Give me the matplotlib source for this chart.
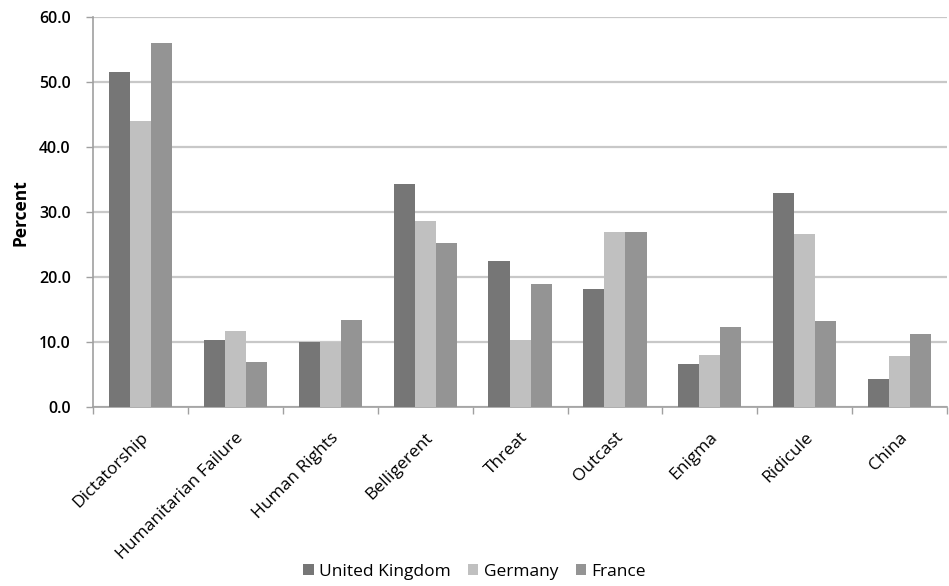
import numpy as np
import matplotlib.pyplot as plt

plt.rcParams['font.family'] = ['Open Sans', 'DejaVu Sans']

categories = ["Dictatorship", "Humanitarian Failure", "Human Rights", "Belligerent",
              "Threat", "Outcast", "Enigma", "Ridicule", "China"]
uk = [51.5, 10.4, 10.0, 34.4, 22.5, 18.2, 6.7, 33.0, 4.4]
germany = [44.0, 11.8, 10.1, 28.6, 10.4, 27.0, 8.1, 26.7, 7.9]
france = [56.0, 7.0, 13.4, 25.2, 19.0, 27.0, 12.4, 13.2, 11.3]
series = ["United Kingdom", "Germany", "France"]
colors = ["#767676", "#c0c0c0", "#949494"]

fig = plt.figure(figsize=(9.49, 5.86), dpi=100)
ax = fig.add_axes([0.098, 0.305, 0.900, 0.666])

x = np.arange(len(categories))
w = 0.222
for i, (vals, name, c) in enumerate(zip([uk, germany, france], series, colors)):
    ax.bar(x + (i - 1) * w, vals, width=w, color=c, label=name, zorder=3)

ax.set_xlim(-0.5, len(categories) - 0.5)
ax.set_ylim(0, 60)
ax.set_yticks(np.arange(0, 61, 10))
ax.set_yticklabels([f"{v:.1f}" for v in np.arange(0, 61, 10)], fontsize=11.5, fontweight='semibold')
ax.yaxis.grid(True, color="#c8c8c8", linewidth=1.6, zorder=0)
ax.set_axisbelow(True)

ax.set_xticks(x)
ax.set_xticklabels(categories, rotation=45, ha='right', rotation_mode='anchor', fontsize=12.5)
ax.tick_params(axis='x', length=0, pad=16)
ax.set_xticks(np.arange(-0.5, len(categories), 1), minor=True)
ax.tick_params(axis='x', which='minor', length=5, color="#a0a0a0", width=1)
ax.tick_params(axis='y', length=5, color="#a0a0a0", width=1, pad=11)

for s in ['top', 'right']:
    ax.spines[s].set_visible(False)
for s in ['left', 'bottom']:
    ax.spines[s].set_color("#a0a0a0")
    ax.spines[s].set_linewidth(1.2)

ax.set_ylabel("Percent", fontsize=12.5, fontweight='bold')
ax.yaxis.set_label_coords(-0.074, 0.5)

fig.legend(loc='lower center', bbox_to_anchor=(0.5, -0.016), ncol=3, frameon=False,
           fontsize=12.5, handlelength=0.6, handleheight=0.6, handletextpad=0.3,
           columnspacing=1.0)

fig.savefig("out.png", dpi=100)
